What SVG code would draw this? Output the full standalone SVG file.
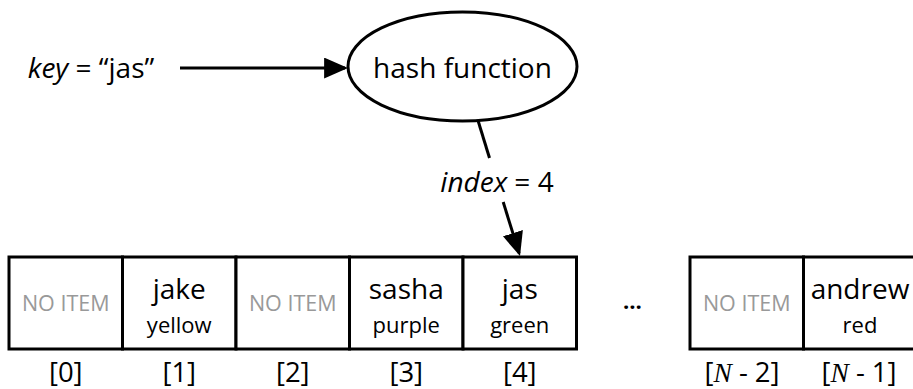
<svg xmlns="http://www.w3.org/2000/svg" width="913" height="389" viewBox="0 0 913 389">
<defs>
<style>
text{font-family:"Open Sans","Noto Sans",sans-serif;fill:#000;text-anchor:middle}
.big{font-size:28px}
.sub{font-size:22px}
.none{font-size:21.5px;fill:#999}
.idx{font-size:27.5px}
.math{font-family:"Liberation Serif","DejaVu Serif",serif;font-style:italic}
.cell{fill:#fff;stroke:#000;stroke-width:3}
.edge{fill:none;stroke:#000;stroke-width:3}
</style>
<marker id="arr" markerUnits="userSpaceOnUse" markerWidth="24" markerHeight="21" refX="20" refY="10" orient="auto" viewBox="0 0 23 20">
<path d="M0,0 L23,10 L0,20 z" fill="#000"/>
</marker>
</defs>
<g id="key-label">
<text class="big" x="91" y="77.5"><tspan font-style="italic">key</tspan> = “jas”</text>
</g>
<g id="hash-function">
<ellipse cx="462.5" cy="66.5" rx="114.5" ry="54.5" fill="#fff" stroke="#000" stroke-width="3"/>
<text class="big" x="462.5" y="78">hash function</text>
</g>
<g id="connectors">
<line class="edge" x1="180" y1="68" x2="345" y2="68" marker-end="url(#arr)"/>
<line class="edge" x1="478" y1="120.5" x2="489.5" y2="158"/>
<line class="edge" x1="503.2" y1="202" x2="519.1" y2="253.1" marker-end="url(#arr)"/>
<text class="big" x="497" y="192"><tspan font-style="italic">index</tspan> = 4</text>
</g>
<g id="cell-0">
<rect class="cell" x="9" y="257" width="113.5" height="92"/>
<text class="none" x="65.75" y="311">NO ITEM</text>
<text class="idx" x="65.75" y="382">[0]</text>
</g>
<g id="cell-1">
<rect class="cell" x="122.5" y="257" width="113.5" height="92"/>
<text class="big" x="179.25" y="299">jake</text>
<text class="sub" x="179.25" y="333">yellow</text>
<text class="idx" x="179.25" y="382">[1]</text>
</g>
<g id="cell-2">
<rect class="cell" x="236" y="257" width="113.5" height="92"/>
<text class="none" x="292.75" y="311">NO ITEM</text>
<text class="idx" x="292.75" y="382">[2]</text>
</g>
<g id="cell-3">
<rect class="cell" x="349.5" y="257" width="113.5" height="92"/>
<text class="big" x="406.25" y="299">sasha</text>
<text class="sub" x="406.25" y="333">purple</text>
<text class="idx" x="406.25" y="382">[3]</text>
</g>
<g id="cell-4">
<rect class="cell" x="463" y="257" width="113.5" height="92"/>
<text class="big" x="519.75" y="299">jas</text>
<text class="sub" x="519.75" y="333">green</text>
<text class="idx" x="519.75" y="382">[4]</text>
</g>
<g id="ellipsis">
<text class="sub" x="632.5" y="309" font-weight="bold">…</text>
</g>
<g id="cell-n2">
<rect class="cell" x="690" y="257" width="113.5" height="92"/>
<text class="none" x="746.75" y="311">NO ITEM</text>
<text class="idx" x="742" y="382">[<tspan class="math">N</tspan> - 2]</text>
</g>
<g id="cell-n1">
<rect class="cell" x="803.5" y="257" width="113.5" height="92"/>
<text class="big" x="860" y="299">andrew</text>
<text class="sub" x="860" y="333">red</text>
<text class="idx" x="859" y="382">[<tspan class="math">N</tspan> - 1]</text>
</g>
</svg>
